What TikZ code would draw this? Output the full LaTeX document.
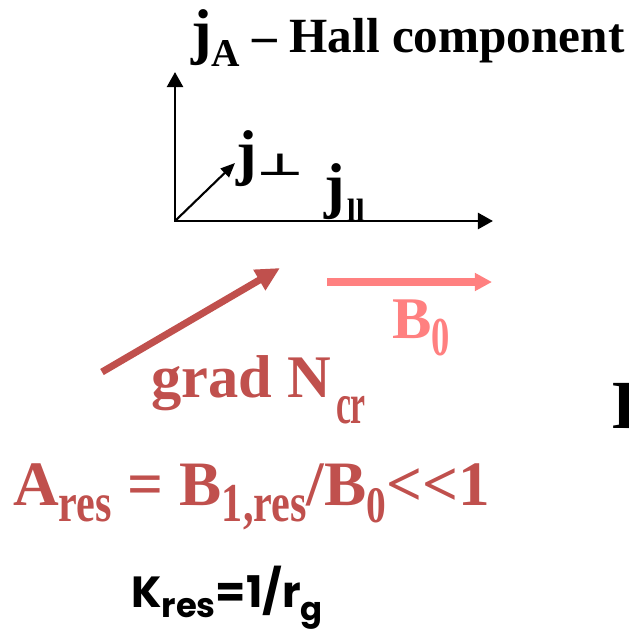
\documentclass[tikz,border=0pt]{standalone}
\usepackage{fontspec}
\setmainfont{Liberation Serif}
\newfontfamily\comicfont{Poppins}
\newfontfamily\simbfont{DejaVu Sans}
\usetikzlibrary{arrows.meta}
\definecolor{rossogr}{RGB}{192,80,77}
\definecolor{rosab}{RGB}{255,128,128}
\newdimen\pxu \pxu=0.025cm
% pedice: abbassamento (px), corpo (pt), allungamento verticale, testo
\newcommand{\pedice}[4]{\raisebox{-#1\pxu}{\fontsize{#2}{#2}\selectfont\scalebox{1}[#3]{#4}}}
\newcommand{\corpo}[1]{\fontsize{#1}{#1}\selectfont}

\begin{document}
\begin{tikzpicture}[x=0.025cm,y=-0.025cm,
		asse/.style={line width=2.1pt, line cap=rect, -{Triangle[length=0.38cm,width=0.4cm]}},
		corrente/.style={line width=1.5pt, -{Triangle[length=0.36cm,width=0.3cm]}},
		gradiente/.style={rossogr, line width=5pt, -{Triangle[length=0.6cm,width=0.56cm]}},
		campo/.style={rosab, line width=5.2pt, -{Triangle[length=0.43cm,width=0.43cm]}},
		testo/.style={inner sep=0pt, anchor=base west, font=\bfseries},
		]
		\useasboundingbox (0,0) rectangle (629,631);
		% ── Assi e componenti della corrente ──
		\coordinate (O) at (175,221);
		\coordinate (Ay) at (175,72);
		\coordinate (Ax) at (493,221);
		\coordinate (Ap) at (235,163);
		\draw[asse] (O) -- (Ay);
		\draw[asse] (O) -- (Ax);
		\draw[corrente] (O) -- (Ap);
		\node[testo] (titolo) at (191,52) {\corpo{44}j\pedice{15}{28}{1}{A}\corpo{35} – Hall component};
		\node[testo] (jperp) at (236,173) {\corpo{44}j\raisebox{-2\pxu}{\corpo{24}\simbfont\scalebox{1.5}[0.9]{⊥}}};
		\node[testo] (jpar) at (324,206) {\corpo{44}j\hspace{2\pxu}\pedice{15}{23}{1}{ll}};
		% ── Gradiente e campo ──
		\coordinate (gcoda) at (102,372);
		\coordinate (gpunta) at (280,268);
		\coordinate (bcoda) at (327,282);
		\coordinate (bpunta) at (492,282);
		\draw[gradiente] (gcoda) -- (gpunta);
		\draw[campo] (bcoda) -- (bpunta);
		\node[testo, rosab] (B0) at (392,338) {\corpo{42}B\pedice{17}{26}{1.5}{0}};
		\node[testo, rossogr] (grad) at (151,397) {\corpo{43}grad N\hspace{5\pxu}\pedice{26}{24}{1.7}{cr}};
		% ── Relazioni ──
		\node[testo, rossogr] (Ares) at (13,505) {\corpo{45}A\pedice{16}{30}{1.3}{res} = B\pedice{16}{30}{1.3}{1,res}/B\pedice{17}{28}{1.3}{0}<{}<1};
		\node[testo, font=\comicfont\bfseries] (Kres) at (131,607) {\corpo{31}K\pedice{10}{24}{1}{res}=1/r\pedice{13}{23}{1}{g}};
		\begin{scope}
			\clip (0,0) rectangle (629,631);
			\node[testo] (tronco) at (612,428) {\corpo{49}B};
		\end{scope}
	\end{tikzpicture}
\end{document}
